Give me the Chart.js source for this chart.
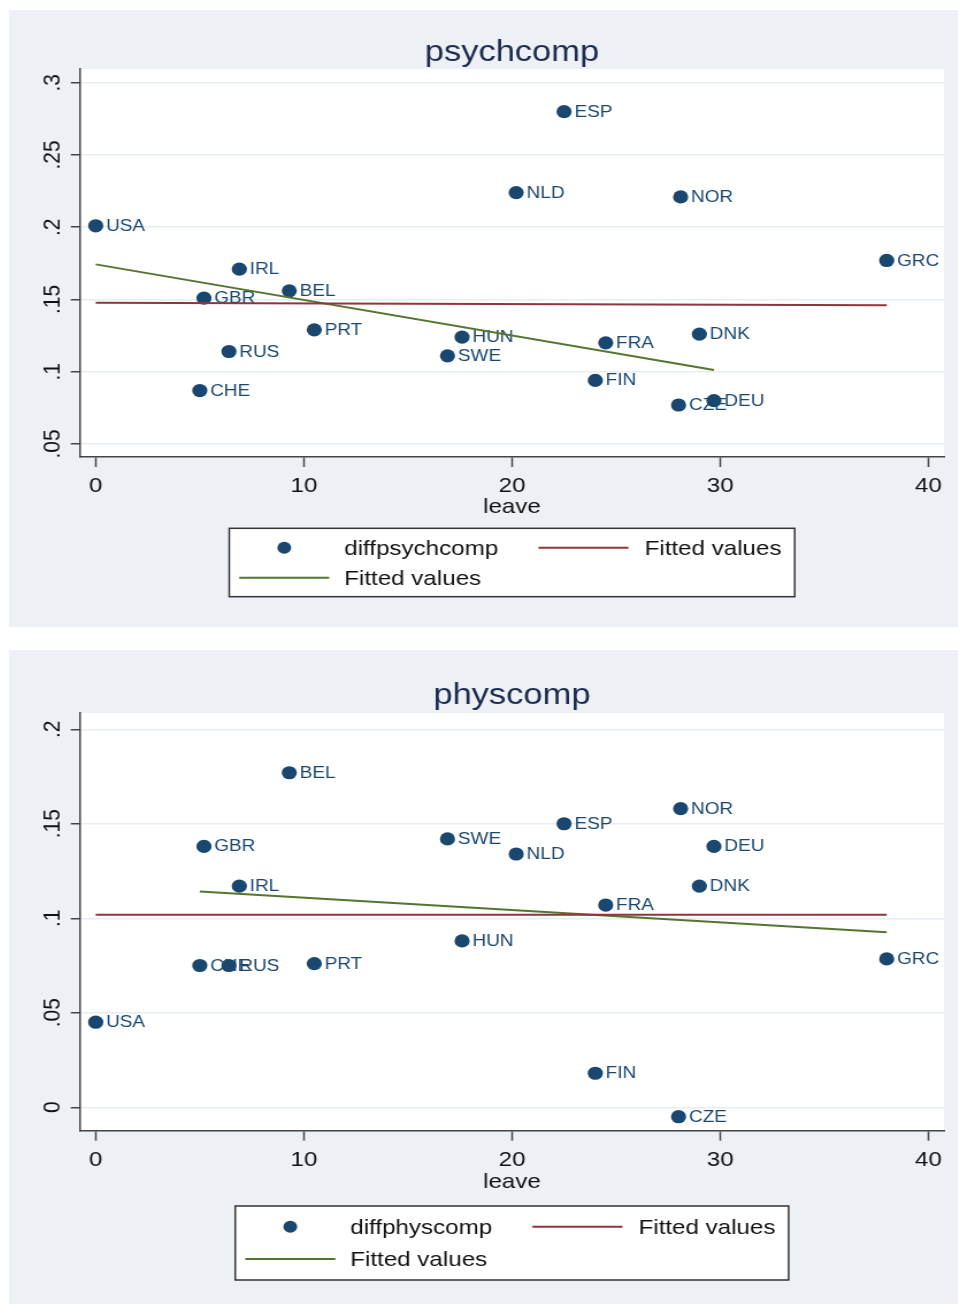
<!DOCTYPE html>
<html>
<head>
<meta charset="utf-8">
<script src="https://cdn.jsdelivr.net/npm/chart.js@4.4.1/dist/chart.umd.min.js"></script>
<style>
  html, body { margin: 0; padding: 0; background: #fff; }
  body { width: 958px; height: 1304px; position: relative; overflow: hidden; }
  .panel { position: absolute; left: 9px; width: 949px; background: #edf1f6; overflow: hidden; }
  /* the reference is a bit wider than tall, so stretch the drawing horizontally */
  .panel canvas { position: absolute; left: 0; top: 0; transform: scaleX(1.15); transform-origin: 0 0; }
</style>
</head>
<body>
<div class="panel" style="top:10px;height:617px"><canvas id="psych" width="825" height="617"></canvas></div>
<div class="panel" style="top:650px;height:654px"><canvas id="phys" width="825" height="654"></canvas></div>
<script>
const countries = ['USA', 'CHE', 'GBR', 'RUS', 'IRL', 'BEL', 'PRT', 'SWE', 'HUN', 'NLD', 'ESP', 'FIN', 'FRA', 'CZE', 'NOR', 'DNK', 'DEU', 'GRC'];
const leave = [0, 5, 5.2, 6.4, 6.9, 9.3, 10.5, 16.9, 17.6, 20.2, 22.5, 24, 24.5, 28, 28.1, 29, 29.7, 38];
const diffpsychcomp = [.201, .087, .151, .114, .171, .156, .129, .111, .124, .224, .280, .094, .120, .077, .221, .126, .080, .177];
const diffphyscomp = [.045, .075, .138, .075, .117, .177, .076, .142, .088, .134, .150, .018, .107, -.005, .158, .117, .138, .0785];

// fitted lines (end points)
const psychFitAllX = [0, 38];
const psychFitAll = [.1478, .146];
const psychFitSubX = [0, 29.7];
const psychFitSub = [.1743, .1012];
const physFitAllX = [0, 38];
const physFitAll = [.1018, .1018];
const physFitSubX = [5, 38];
const physFitSub = [.1141, .0926];

const xTicks = [0, 10, 20, 30, 40];
const psychTicks = [.05, .1, .15, .2, .25, .3];
const psychTickLabels = ['.05', '.1', '.15', '.2', '.25', '.3'];
const physTicks = [0, .05, .1, .15, .2];
const physTickLabels = ['0', '.05', '.1', '.15', '.2'];

const FONT = "'Liberation Sans', Arial, sans-serif";
const NAVY = '#1a476f';
const MAROON = '#90353b';
const GREEN = '#55752f';
const AXIS = '#444';

function pts(xs, ys) {
    return xs.map((x, i) => ({ x: x, y: ys[i] }));
}

const stataDecor = {
    id: 'stataDecor',
    beforeDraw(chart) {
        const ca = chart.chartArea;
        const ctx = chart.ctx;
        ctx.save();
        ctx.fillStyle = '#fff';
        ctx.fillRect(ca.left, ca.top, ca.right - ca.left, ca.bottom - ca.top);
        ctx.restore();
    },
    // labels go under the lines, like in the Stata graph
    beforeDatasetsDraw(chart) {
        const ctx = chart.ctx;
        const meta = chart.getDatasetMeta(0);
        ctx.save();
        ctx.font = '16.5px ' + FONT;
        ctx.fillStyle = NAVY;
        ctx.textAlign = 'left';
        ctx.textBaseline = 'middle';
        meta.data.forEach((el, i) => {
            ctx.fillText(countries[i], el.x + 9, el.y + 0.5);
        });
        ctx.restore();
    },
    afterDraw(chart, args, opts) {
        const ctx = chart.ctx;
        const ca = chart.chartArea;
        const mid = (ca.left + ca.right) / 2;
        ctx.save();

        // title
        ctx.font = '30px ' + FONT;
        ctx.fillStyle = '#1c2a4e';
        ctx.textAlign = 'center';
        ctx.textBaseline = 'alphabetic';
        ctx.fillText(opts.title, mid, opts.titleBaseline);

        // rotated y tick labels
        const ys = chart.scales.y;
        ctx.font = '21px ' + FONT;
        ctx.fillStyle = '#111';
        ctx.textBaseline = 'middle';
        ys.ticks.forEach((t, i) => {
            ctx.save();
            ctx.translate(37.8, ys.getPixelForValue(t.value));
            ctx.rotate(-Math.PI / 2);
            ctx.fillText(opts.yLabels[i], 0, 0);
            ctx.restore();
        });

        // legend box
        const ds = chart.data.datasets;
        const keyW = 78.3;
        const w1 = ctx.measureText(ds[0].label).width;
        const w2 = ctx.measureText(ds[1].label).width;
        const width = 8.7 + keyW + 13 + w1 + 35 + keyW + 14 + w2 + 11.5;
        const left = mid - width / 2;
        ctx.fillStyle = '#fff';
        ctx.fillRect(left, opts.legendTop, width, opts.legendHeight);
        ctx.strokeStyle = '#333';
        ctx.lineWidth = 1.5;
        ctx.strokeRect(left, opts.legendTop, width, opts.legendHeight);

        const k1 = left + 8.7;
        const t1 = k1 + keyW + 13;
        const k2 = t1 + w1 + 35;
        const t2 = k2 + keyW + 14;
        const r1 = opts.legendRows[0];
        const r2 = opts.legendRows[1];

        ctx.fillStyle = ds[0].backgroundColor;
        ctx.beginPath();
        ctx.arc(k1 + keyW / 2, r1, 6, 0, Math.PI * 2);
        ctx.fill();

        ctx.lineWidth = 2;
        ctx.strokeStyle = ds[1].borderColor;
        ctx.beginPath();
        ctx.moveTo(k2, r1);
        ctx.lineTo(k2 + keyW, r1);
        ctx.stroke();
        ctx.strokeStyle = ds[2].borderColor;
        ctx.beginPath();
        ctx.moveTo(k1, r2);
        ctx.lineTo(k1 + keyW, r2);
        ctx.stroke();

        ctx.fillStyle = '#111';
        ctx.textAlign = 'left';
        ctx.fillText(ds[0].label, t1, r1 + 1.5);
        ctx.fillText(ds[1].label, t2, r1 + 1.5);
        ctx.fillText(ds[2].label, t1, r2 + 1.5);
        ctx.restore();
    }
};

function makeChart(id, cfg) {
    return new Chart(document.getElementById(id), {
        type: 'scatter',
        data: {
            datasets: [
                {
                    label: cfg.name,
                    data: pts(leave, cfg.values),
                    backgroundColor: NAVY,
                    borderColor: NAVY,
                    borderWidth: 0,
                    pointRadius: 6.6,
                    order: 3
                },
                {
                    type: 'line',
                    label: 'Fitted values',
                    data: pts(cfg.fitAllX, cfg.fitAll),
                    borderColor: MAROON,
                    borderWidth: 2,
                    pointRadius: 0,
                    order: 1
                },
                {
                    type: 'line',
                    label: 'Fitted values',
                    data: pts(cfg.fitSubX, cfg.fitSub),
                    borderColor: GREEN,
                    borderWidth: 2,
                    pointRadius: 0,
                    order: 2
                }
            ]
        },
        options: {
            responsive: false,
            animation: false,
            devicePixelRatio: 1,
            layout: {
                padding: { top: cfg.padTop, right: 12, bottom: cfg.padBottom, left: 0 }
            },
            scales: {
                x: {
                    type: 'linear',
                    min: -0.757,
                    max: 40.75,
                    afterBuildTicks: s => { s.ticks = xTicks.map(v => ({ value: v })); },
                    afterFit: s => { s.height = cfg.xAxisHeight; },
                    grid: { drawOnChartArea: false, tickLength: 10, tickColor: AXIS, tickWidth: 1.5 },
                    border: { color: AXIS, width: 1.5 },
                    ticks: { color: '#111', font: { family: FONT, size: 21 }, padding: 7, maxRotation: 0, autoSkip: false },
                    title: { display: true, text: 'leave', color: '#111', font: { family: FONT, size: 21 }, padding: 0 }
                },
                y: {
                    type: 'linear',
                    min: cfg.yMin,
                    max: cfg.yMax,
                    afterBuildTicks: s => { s.ticks = cfg.yTicks.map(v => ({ value: v })); },
                    afterFit: s => { s.width = 61.7; },
                    grid: { color: '#e6edf3', lineWidth: 1.5, tickLength: 8, tickColor: AXIS, tickWidth: 1.5 },
                    border: { color: AXIS, width: 1.5 },
                    ticks: { display: false }
                }
            },
            plugins: {
                legend: { display: false },
                title: { display: false },
                tooltip: { enabled: false },
                stataDecor: {
                    title: cfg.title,
                    titleBaseline: cfg.titleBaseline,
                    yLabels: cfg.yLabels,
                    legendTop: cfg.legendTop,
                    legendHeight: cfg.legendHeight,
                    legendRows: cfg.legendRows
                }
            }
        },
        plugins: [stataDecor]
    });
}

makeChart('psych', {
    title: 'psychcomp',
    name: 'diffpsychcomp',
    values: diffpsychcomp,
    fitAllX: psychFitAllX, fitAll: psychFitAll,
    fitSubX: psychFitSubX, fitSub: psychFitSub,
    yTicks: psychTicks, yLabels: psychTickLabels,
    yMin: 0.041, yMax: 0.3095,
    padTop: 59, padBottom: 107.5, xAxisHeight: 62.5,
    titleBaseline: 50.5,
    legendTop: 518.3, legendHeight: 68.4, legendRows: [537.7, 567.8]
});

makeChart('phys', {
    title: 'physcomp',
    name: 'diffphyscomp',
    values: diffphyscomp,
    fitAllX: physFitAllX, fitAll: physFitAll,
    fitSubX: physFitSubX, fitSub: physFitSub,
    yTicks: physTicks, yLabels: physTickLabels,
    yMin: -0.0124, yMax: 0.2086,
    padTop: 63, padBottom: 109, xAxisHeight: 64.3,
    titleBaseline: 53.8,
    legendTop: 556, legendHeight: 74, legendRows: [576.7, 609]
});
</script>
</body>
</html>
